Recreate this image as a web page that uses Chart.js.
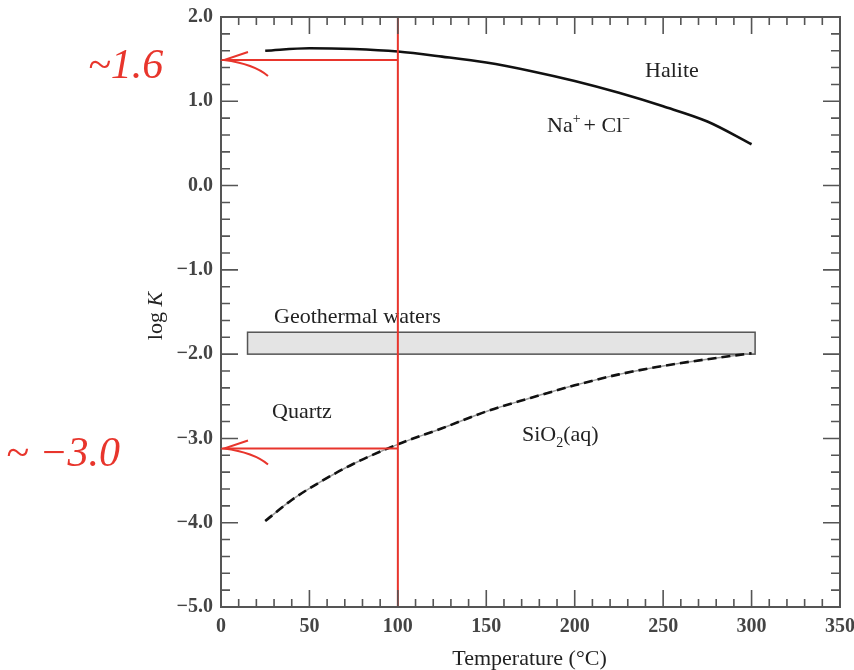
<!DOCTYPE html>
<html>
<head>
<meta charset="utf-8">
<script src="https://cdn.jsdelivr.net/npm/chart.js@4.4.0/dist/chart.umd.min.js"></script>
<style>
html,body{margin:0;padding:0;background:#fff}
#wrap{width:854px;height:670px}
</style>
</head>
<body>
<div id="wrap"><canvas id="c" width="854" height="670"></canvas></div>
<script>
// values
var haliteT = [25, 50, 75, 100, 125, 150, 175, 200, 225, 250, 275, 300];
var haliteK = [1.60, 1.63, 1.62, 1.59, 1.53, 1.46, 1.36, 1.24, 1.10, 0.94, 0.76, 0.49];
var quartzT = [25, 40, 55, 75, 100, 125, 150, 175, 200, 225, 250, 275, 300];
var quartzK = [-3.98, -3.73, -3.53, -3.30, -3.07, -2.88, -2.68, -2.52, -2.37, -2.24, -2.14, -2.06, -1.99];
var boxT = [15, 302];          // geothermal waters band
var boxK = [-2.0, -1.74];
var readT = 100;               // red read-off line
var readK = [1.49, -3.12];
var readLabels = ['~1.6', '~ \u22123.0'];
var xTicks = [0, 50, 100, 150, 200, 250, 300, 350];
var yTicks = [-5, -4, -3, -2, -1, 0, 1, 2];

var serif = "'Liberation Serif', 'DejaVu Serif', serif";
var red = '#e8352c';

function pts(xs, ys) {
    return xs.map(function(x, i) { return {x: x, y: ys[i]}; });
}

var datasets = [
    {data: pts([readT, readT], [yTicks[0], yTicks[yTicks.length - 1]]), borderColor: red, borderWidth: 2, tension: 0},
    {data: pts([0, readT], [readK[0], readK[0]]), borderColor: red, borderWidth: 2, tension: 0},
    {data: pts([0, readT], [readK[1], readK[1]]), borderColor: red, borderWidth: 2, tension: 0},
    {data: pts(haliteT, haliteK), borderColor: '#111', borderWidth: 2.6, cubicInterpolationMode: 'monotone'},
    {data: pts(quartzT, quartzK), borderColor: '#111', borderWidth: 2.6, borderDash: [9, 5], cubicInterpolationMode: 'monotone'},
    {data: pts(quartzT, quartzK), borderColor: '#999', borderWidth: 1.5, cubicInterpolationMode: 'monotone'}
];
datasets.forEach(function(d) { d.showLine = true; d.pointRadius = 0; d.fill = false; });

var decor = {
    id: 'decor',
    beforeDatasetsDraw: function(chart) {
        var ctx = chart.ctx, xs = chart.scales.x, ys = chart.scales.y;
        // geothermal box
        var x0 = xs.getPixelForValue(boxT[0]), x1 = xs.getPixelForValue(boxT[1]);
        var y0 = ys.getPixelForValue(boxK[1]), y1 = ys.getPixelForValue(boxK[0]);
        ctx.save();
        ctx.fillStyle = '#e4e4e4';
        ctx.strokeStyle = '#555';
        ctx.lineWidth = 1.5;
        ctx.fillRect(x0, y0, x1 - x0, y1 - y0);
        ctx.strokeRect(x0, y0, x1 - x0, y1 - y0);

        // labels inside the plot
        ctx.fillStyle = '#222';
        ctx.textBaseline = 'alphabetic';
        ctx.font = '22px ' + serif;
        ctx.textAlign = 'left';
        ctx.fillText('Halite', 645, 77);
        ctx.fillText('Geothermal waters', 274, 323);
        ctx.fillText('Quartz', 272, 418);
        // Na+ + Cl-
        var x = 547;
        ctx.fillText('Na', x, 132); x += ctx.measureText('Na').width;
        ctx.font = '14px ' + serif; ctx.fillText('+', x, 123); x += ctx.measureText('+').width + 3;
        ctx.font = '22px ' + serif; ctx.fillText('+ Cl', x, 132); x += ctx.measureText('+ Cl').width;
        ctx.font = '14px ' + serif; ctx.fillText('\u2212', x, 123);
        // SiO2(aq)
        x = 522;
        ctx.font = '22px ' + serif; ctx.fillText('SiO', x, 441); x += ctx.measureText('SiO').width;
        ctx.font = '14px ' + serif; ctx.fillText('2', x, 447); x += ctx.measureText('2').width;
        ctx.font = '22px ' + serif; ctx.fillText('(aq)', x, 441);
        ctx.restore();
    },
    afterDraw: function(chart) {
        var ctx = chart.ctx, xs = chart.scales.x, ys = chart.scales.y, a = chart.chartArea;
        ctx.save();
        // frame
        ctx.strokeStyle = '#555';
        ctx.lineWidth = 2;
        ctx.strokeRect(a.left, a.top, a.right - a.left, a.bottom - a.top);
        // inward ticks on all four sides
        ctx.lineWidth = 1.6;
        ctx.beginPath();
        for (var t = xTicks[0]; t <= xTicks[xTicks.length - 1]; t += 10) {
            var px = xs.getPixelForValue(t), len = (t % 50 === 0) ? 17 : 8;
            ctx.moveTo(px, a.bottom); ctx.lineTo(px, a.bottom - len);
            ctx.moveTo(px, a.top); ctx.lineTo(px, a.top + len);
        }
        for (var k = 0; k <= 35; k++) {
            var v = yTicks[0] + k * 0.2, py = ys.getPixelForValue(v), l = (k % 5 === 0) ? 17 : 9;
            ctx.moveTo(a.left, py); ctx.lineTo(a.left + l, py);
            ctx.moveTo(a.right, py); ctx.lineTo(a.right - l, py);
        }
        ctx.stroke();

        // axis titles
        ctx.fillStyle = '#222';
        ctx.font = '22px ' + serif;
        ctx.textAlign = 'center';
        ctx.fillText('Temperature (\u00b0C)', (a.left + a.right) / 2 - 1, 665);
        ctx.translate(162, 316);
        ctx.rotate(-Math.PI / 2);
        ctx.textAlign = 'left';
        var w1 = ctx.measureText('log ').width;
        ctx.font = 'italic 22px ' + serif;
        var w2 = ctx.measureText('K').width;
        ctx.font = '22px ' + serif;
        ctx.fillText('log ', -(w1 + w2) / 2, 0);
        ctx.font = 'italic 22px ' + serif;
        ctx.fillText('K', -(w1 + w2) / 2 + w1, 0);
        ctx.setTransform(1, 0, 0, 1, 0, 0);

        // red arrow heads and handwritten values
        ctx.strokeStyle = red;
        ctx.fillStyle = red;
        ctx.lineWidth = 2;
        var tipX = xs.getPixelForValue(0) + 3;
        readK.forEach(function(kv) {
            var py = ys.getPixelForValue(kv);
            ctx.beginPath();
            ctx.moveTo(tipX + 24, py - 8); ctx.lineTo(tipX, py);
            ctx.quadraticCurveTo(tipX + 30, py + 4, tipX + 44, py + 16);
            ctx.stroke();
        });
        ctx.font = 'italic 42px ' + serif;
        ctx.textAlign = 'left';
        ctx.fillText(readLabels[0], 88, 78);
        ctx.fillText(readLabels[1], 6, 466);
        ctx.restore();
    }
};

function noPad(s) {
    s.paddingLeft = 0; s.paddingRight = 0; s.paddingTop = 0; s.paddingBottom = 0;
}

var ctx = document.getElementById('c').getContext('2d');
new Chart(ctx, {
    type: 'scatter',
    data: {datasets: datasets},
    options: {
        responsive: false,
        animation: false,
        devicePixelRatio: 1,
        layout: {padding: {top: 17, right: 14, left: 0, bottom: 0}},
        plugins: {legend: {display: false}, tooltip: {enabled: false}},
        scales: {
            x: {
                type: 'linear', min: xTicks[0], max: xTicks[xTicks.length - 1],
                afterBuildTicks: function(s) { s.ticks = xTicks.map(function(v) { return {value: v}; }); },
                afterFit: function(s) { s.height = 63; noPad(s); },
                grid: {display: false, drawTicks: false},
                border: {display: false},
                ticks: {color: '#444', padding: 8, maxRotation: 0, font: {family: serif, size: 20, weight: 'bold'},
                        callback: function(v) { return String(v); }}
            },
            y: {
                type: 'linear', min: yTicks[0], max: yTicks[yTicks.length - 1],
                afterBuildTicks: function(s) { s.ticks = yTicks.map(function(v) { return {value: v}; }); },
                afterFit: function(s) { s.width = 221; noPad(s); },
                grid: {display: false, drawTicks: false},
                border: {display: false},
                ticks: {color: '#444', padding: 8, font: {family: serif, size: 20, weight: 'bold'},
                        callback: function(v) { return (v < 0 ? '\u2212' : '') + Math.abs(v).toFixed(1); }}
            }
        }
    },
    plugins: [decor]
});
</script>
</body>
</html>
